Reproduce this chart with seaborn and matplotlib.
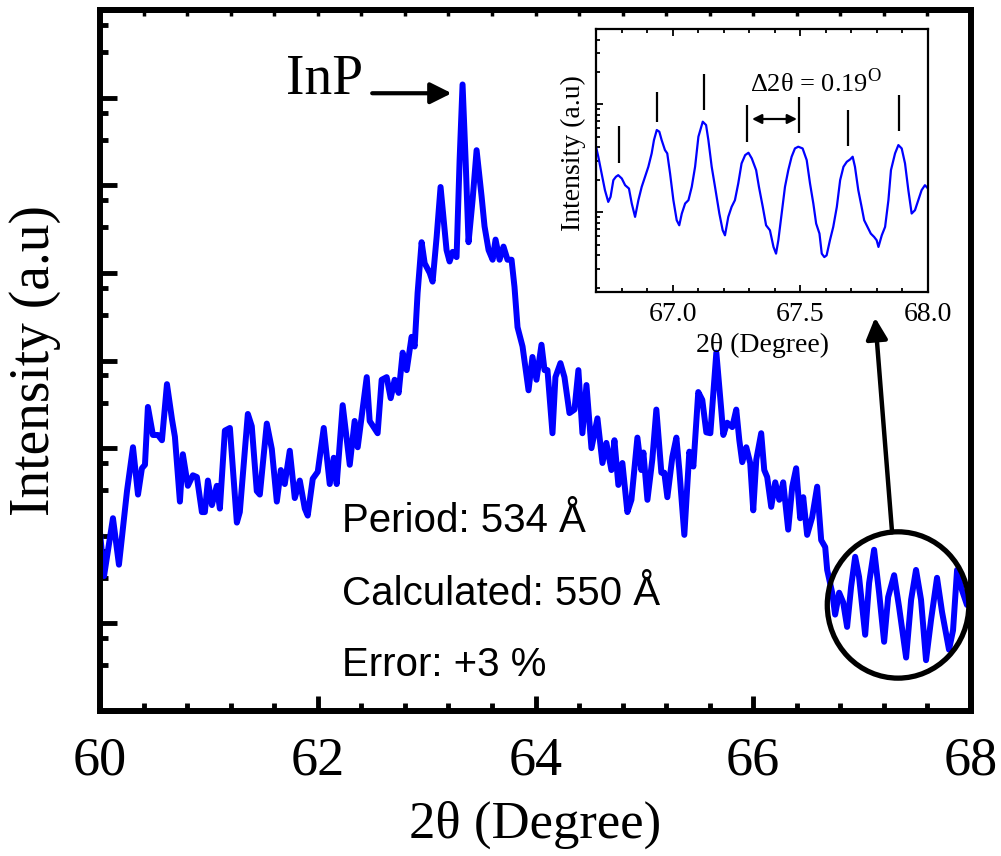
import numpy as np
import pandas as pd
import matplotlib
matplotlib.use("Agg")
import matplotlib.pyplot as plt
import seaborn as sns
from matplotlib.patches import Ellipse
from matplotlib.ticker import MultipleLocator, FixedLocator

# ---------------- data ----------------
main_two_theta = [60.000, 60.037, 60.119, 60.174, 60.248, 60.303, 60.349, 60.385, 60.413, 60.440,
                  60.486, 60.532, 60.569, 60.615, 60.661, 60.688, 60.734, 60.761, 60.807, 60.853,
                  60.890, 60.936, 60.963, 60.991, 61.028, 61.073, 61.101, 61.147, 61.193, 61.257,
                  61.284, 61.358, 61.394, 61.440, 61.468, 61.532, 61.578, 61.624, 61.661, 61.697,
                  61.743, 61.789, 61.835, 61.881, 61.908, 61.954, 62.000, 62.055, 62.110, 62.147,
                  62.174, 62.229, 62.294, 62.339, 62.367, 62.450, 62.477, 62.550, 62.587, 62.633,
                  62.670, 62.706, 62.743, 62.780, 62.817, 62.862, 62.890, 62.917, 62.954, 62.982,
                  63.028, 63.055, 63.092, 63.128, 63.156, 63.183, 63.211, 63.239, 63.275, 63.303,
                  63.330, 63.358, 63.385, 63.422, 63.459, 63.505, 63.532, 63.569, 63.606, 63.633,
                  63.670, 63.706, 63.743, 63.780, 63.807, 63.835, 63.881, 63.936, 63.972, 64.009,
                  64.055, 64.083, 64.110, 64.156, 64.183, 64.229, 64.266, 64.312, 64.358, 64.394,
                  64.431, 64.468, 64.514, 64.569, 64.615, 64.651, 64.697, 64.725, 64.761, 64.798,
                  64.844, 64.881, 64.936, 64.972, 64.991, 65.028, 65.073, 65.110, 65.156, 65.183,
                  65.211, 65.257, 65.294, 65.321, 65.367, 65.413, 65.450, 65.495, 65.532, 65.569,
                  65.606, 65.661, 65.706, 65.725, 65.761, 65.807, 65.844, 65.872, 65.899, 65.936,
                  65.972, 66.000, 66.028, 66.073, 66.101, 66.128, 66.165, 66.202, 66.239, 66.275,
                  66.321, 66.358, 66.394, 66.431, 66.459, 66.495, 66.541, 66.587, 66.624, 66.661,
                  66.679, 66.725, 66.752, 66.789, 66.826, 66.862, 66.899, 66.936, 66.972, 67.028,
                  67.064, 67.110, 67.156, 67.202, 67.239, 67.294, 67.339, 67.404, 67.450, 67.495,
                  67.541, 67.587, 67.633, 67.688, 67.734, 67.798, 67.835, 67.872, 67.917, 67.963]
main_intensity = [2.04, 1.54, 2.20, 1.67, 2.51, 3.01, 2.47, 2.77, 2.81, 3.47,
                  3.15, 3.15, 3.09, 3.73, 3.33, 3.13, 2.39, 2.93, 2.57, 2.69,
                  2.67, 2.27, 2.27, 2.63, 2.35, 2.57, 2.31, 3.20, 3.23, 2.15,
                  2.27, 3.39, 3.25, 2.51, 2.47, 3.28, 2.99, 2.39, 2.75, 2.59,
                  2.97, 2.43, 2.63, 2.31, 2.23, 2.65, 2.73, 3.23, 2.59, 2.89,
                  2.59, 3.49, 2.81, 3.31, 3.01, 3.81, 3.31, 3.17, 3.78, 3.81,
                  3.57, 3.78, 3.63, 4.09, 3.89, 4.27, 4.16, 4.77, 5.35, 5.11,
                  5.00, 4.90, 5.41, 5.98, 5.61, 5.26, 5.13, 5.24, 5.18, 6.29,
                  7.15, 6.29, 5.35, 5.83, 6.40, 5.87, 5.53, 5.26, 5.15, 5.38,
                  5.15, 5.30, 5.15, 5.15, 4.84, 4.38, 4.16, 3.66, 4.04, 3.78,
                  4.18, 3.89, 3.89, 3.17, 3.81, 3.97, 3.81, 3.40, 3.44, 3.89,
                  3.17, 3.72, 3.00, 3.34, 2.83, 3.06, 2.75, 3.09, 2.58, 2.83,
                  2.27, 2.41, 3.12, 2.75, 2.95, 2.41, 2.87, 3.44, 2.72, 2.72,
                  2.44, 2.90, 3.12, 2.75, 2.01, 2.96, 2.79, 3.64, 3.55, 3.18,
                  3.17, 4.09, 3.44, 3.15, 3.29, 3.24, 3.44, 3.09, 2.84, 3.01,
                  2.83, 2.29, 2.87, 3.17, 2.75, 2.67, 2.33, 2.61, 2.41, 2.61,
                  2.07, 2.56, 2.77, 2.20, 2.44, 2.01, 2.21, 2.56, 1.95, 1.87,
                  1.61, 1.35, 1.10, 1.35, 1.24, 0.96, 1.42, 1.76, 1.53, 0.87,
                  1.46, 1.84, 1.35, 0.79, 1.30, 1.55, 1.19, 0.61, 1.27, 1.61,
                  1.27, 0.58, 1.04, 1.52, 1.13, 0.70, 0.92, 1.61, 1.38, 1.21]

inset_two_theta = [66.700, 66.709, 66.722, 66.735, 66.748, 66.757, 66.768, 66.778, 66.787, 66.801,
                   66.814, 66.829, 66.840, 66.853, 66.866, 66.879, 66.892, 66.905, 66.918, 66.927,
                   66.938, 66.948, 66.957, 66.970, 66.979, 66.990, 67.003, 67.016, 67.026, 67.036,
                   67.049, 67.062, 67.075, 67.088, 67.101, 67.118, 67.131, 67.140, 67.153, 67.166,
                   67.183, 67.196, 67.205, 67.218, 67.231, 67.244, 67.257, 67.270, 67.284, 67.297,
                   67.310, 67.327, 67.338, 67.353, 67.366, 67.381, 67.395, 67.405, 67.414, 67.427,
                   67.440, 67.453, 67.466, 67.479, 67.492, 67.509, 67.525, 67.538, 67.551, 67.562,
                   67.575, 67.584, 67.594, 67.603, 67.616, 67.629, 67.643, 67.656, 67.669, 67.682,
                   67.695, 67.705, 67.714, 67.727, 67.740, 67.750, 67.763, 67.776, 67.789, 67.799,
                   67.806, 67.819, 67.832, 67.845, 67.855, 67.871, 67.884, 67.897, 67.910, 67.923,
                   67.936, 67.949, 67.962, 67.975, 67.988, 68.000]
inset_log_intensity = [2.608, 2.515, 2.360, 2.205, 2.096, 2.143, 2.298, 2.329, 2.344, 2.313,
                       2.251, 2.220, 2.081, 1.957, 2.112, 2.236, 2.329, 2.422, 2.546, 2.670,
                       2.763, 2.747, 2.670, 2.577, 2.546, 2.360, 2.112, 1.926, 1.879, 1.988,
                       2.081, 2.112, 2.236, 2.422, 2.701, 2.840, 2.809, 2.670, 2.422, 2.236,
                       1.988, 1.833, 1.786, 1.957, 2.050, 2.112, 2.267, 2.453, 2.530, 2.552,
                       2.499, 2.391, 2.236, 2.050, 1.879, 1.833, 1.678, 1.616, 1.740, 1.988,
                       2.236, 2.391, 2.515, 2.592, 2.608, 2.592, 2.484, 2.267, 2.081, 1.895,
                       1.802, 1.616, 1.584, 1.600, 1.740, 1.864, 2.050, 2.298, 2.422, 2.468,
                       2.490, 2.515, 2.422, 2.205, 2.050, 1.926, 1.864, 1.802, 1.771, 1.740,
                       1.678, 1.786, 1.864, 2.112, 2.391, 2.546, 2.623, 2.592, 2.453, 2.205,
                       1.988, 2.019, 2.112, 2.205, 2.251, 2.220]

fringe_positions = [66.790, 66.939, 67.123, 67.291, 67.495, 67.687, 67.886]
fringe_bottoms = [2.456, 2.837, 2.949, 2.651, 2.735, 2.614, 2.753]
fringe_tops = [2.800, 3.116, 3.284, 2.995, 3.070, 2.949, 3.088]

main_xticks = [60, 62, 64, 66, 68]
inset_xticks = [67.0, 67.5, 68.0]
info_lines = ["Period: 534 \u00c5", "Calculated: 550 \u00c5", "Error: +3 %"]

# ---------------- style ----------------
sns.set_style("ticks")
plt.rcParams["font.family"] = ["Liberation Serif", "DejaVu Serif"]
plt.rcParams["mathtext.fontset"] = "custom"
plt.rcParams["mathtext.rm"] = "Liberation Serif"
plt.rcParams["axes.facecolor"] = "white"
plt.rcParams["text.color"] = "black"
plt.rcParams["axes.labelcolor"] = "black"
plt.rcParams["xtick.color"] = "black"
plt.rcParams["ytick.color"] = "black"
plt.rcParams["axes.edgecolor"] = "black"

BLUE = "#0000ff"
fig = plt.figure(figsize=(10.01, 8.56), dpi=100)
fig.patch.set_facecolor("white")

# ---------------- main axes ----------------
ax = fig.add_axes([100 / 1001, 145 / 856, 871 / 1001, 701 / 856])
main_df = pd.DataFrame({"two_theta": main_two_theta, "intensity": main_intensity})
sns.lineplot(data=main_df, x="two_theta", y="intensity", ax=ax, color=BLUE,
             lw=4.3, sort=False, estimator=None,
             solid_joinstyle="round", solid_capstyle="round")
ax.set_xlim(60, 68)
ax.set_ylim(0, 8)
for s in ax.spines.values():
    s.set_linewidth(4.3)
    s.set_color("black")

ax.xaxis.set_major_locator(FixedLocator(main_xticks))
ax.xaxis.set_minor_locator(MultipleLocator(0.4))
ax.set_xticklabels([str(t) for t in main_xticks])
ax.yaxis.set_major_locator(FixedLocator(np.arange(0, 9)))
ax.yaxis.set_minor_locator(FixedLocator([k + f for k in range(8) for f in (0.52, 0.83)]))
ax.tick_params(axis="x", which="major", direction="in", length=11, width=3.5,
               labelsize=39, pad=18, color="black", labelcolor="black")
ax.tick_params(axis="x", which="minor", direction="in", length=5.5, width=3.5, color="black")
ax.tick_params(axis="y", which="major", direction="in", length=12, width=3.5,
               labelleft=False, color="black")
ax.tick_params(axis="y", which="minor", direction="in", length=5.5, width=3.5, color="black")

sec = ax.secondary_xaxis("top")
sec.xaxis.set_major_locator(MultipleLocator(0.4))
sec.tick_params(direction="in", length=4, width=2.5, labeltop=False, color="black")
sec.spines["top"].set_linewidth(4.3)
sec.spines["top"].set_color("black")

ax.set_xlabel("2\u03b8 (Degree)", fontsize=38, color="black")
ax.set_ylabel("Intensity (a.u)", fontsize=40, color="black")
ax.xaxis.label.set_verticalalignment("center")
ax.yaxis.label.set_verticalalignment("center")
ax.xaxis.set_label_coords(0.5, -0.163)
ax.yaxis.set_label_coords(-0.0746, 0.5)

# InP label + arrow
ax.text(62.06, 7.20, "InP", fontsize=40, ha="center", va="center", color="black")
ax.annotate("", xy=(63.23, 7.05), xytext=(62.50, 7.05),
            arrowprops=dict(arrowstyle="-|>", lw=3, color="black",
                            mutation_scale=32, shrinkA=0, shrinkB=0))

# info text
for txt, yv in zip(info_lines, [2.17, 1.34, 0.53]):
    ax.text(62.22, yv, txt, fontsize=29, ha="left", va="center", color="black",
            family=["Liberation Sans", "DejaVu Sans"])

# circle around the zoomed region + arrow
ax.add_patch(Ellipse((67.33, 1.21), width=1.30, height=1.67, fill=False,
                     lw=3.8, ec="black", clip_on=False, zorder=5))
ax.annotate("", xy=(67.119, 4.49), xytext=(67.275, 2.04),
            arrowprops=dict(arrowstyle="-|>", lw=3.2, color="black",
                            mutation_scale=32, shrinkA=0, shrinkB=0))

# ---------------- inset ----------------
axin = fig.add_axes([596 / 1001, (856 - 292) / 856, 332 / 1001, 263 / 856])
inset_df = pd.DataFrame({"two_theta": inset_two_theta, "log_intensity": inset_log_intensity})
sns.lineplot(data=inset_df, x="two_theta", y="log_intensity", ax=axin, color=BLUE,
             lw=1.6, sort=False, estimator=None, solid_joinstyle="round")
axin.set_xlim(66.7, 68.0)
axin.set_ylim(1.26, 3.70)
for s in axin.spines.values():
    s.set_linewidth(1.6)
    s.set_color("black")
axin.xaxis.set_major_locator(FixedLocator(inset_xticks))
axin.set_xticklabels([f"{t:.1f}" for t in inset_xticks])
axin.xaxis.set_minor_locator(MultipleLocator(0.1))
axin.yaxis.set_major_locator(FixedLocator([2, 3]))
axin.yaxis.set_minor_locator(FixedLocator(
    [d + np.log10(k) for d in (1, 2, 3) for k in range(2, 10)]))
axin.tick_params(axis="x", which="major", direction="in", length=5, width=1.3,
                 labelsize=20, pad=7, top=True, color="black", labelcolor="black")
axin.tick_params(axis="x", which="minor", direction="in", length=3, width=1.3,
                 top=True, color="black")
axin.tick_params(axis="y", which="major", direction="in", length=5, width=1.3,
                 labelleft=False, color="black")
axin.tick_params(axis="y", which="minor", direction="in", length=3, width=1.3, color="black")
axin.set_xlabel("2\u03b8 (Degree)", fontsize=20, color="black")
axin.set_ylabel("Intensity (a.u)", fontsize=20, color="black")
axin.xaxis.label.set_verticalalignment("center")
axin.yaxis.label.set_verticalalignment("center")
axin.xaxis.set_label_coords(0.5, -0.2015)
axin.yaxis.set_label_coords(-0.069, 0.53)

axin.vlines(fringe_positions, fringe_bottoms, fringe_tops, color="black", lw=1.6)
axin.annotate("", xy=(67.487, 2.865), xytext=(67.311, 2.865),
              arrowprops=dict(arrowstyle="<|-|>", lw=1.6, color="black",
                              mutation_scale=14, shrinkA=0, shrinkB=0))
axin.text(67.561, 3.20, "\u03942\u03b8 = 0.19$^{\\mathrm{O}}$", fontsize=19,
          ha="center", va="center", color="black")

fig.savefig("out.png", dpi=100, facecolor="white")
